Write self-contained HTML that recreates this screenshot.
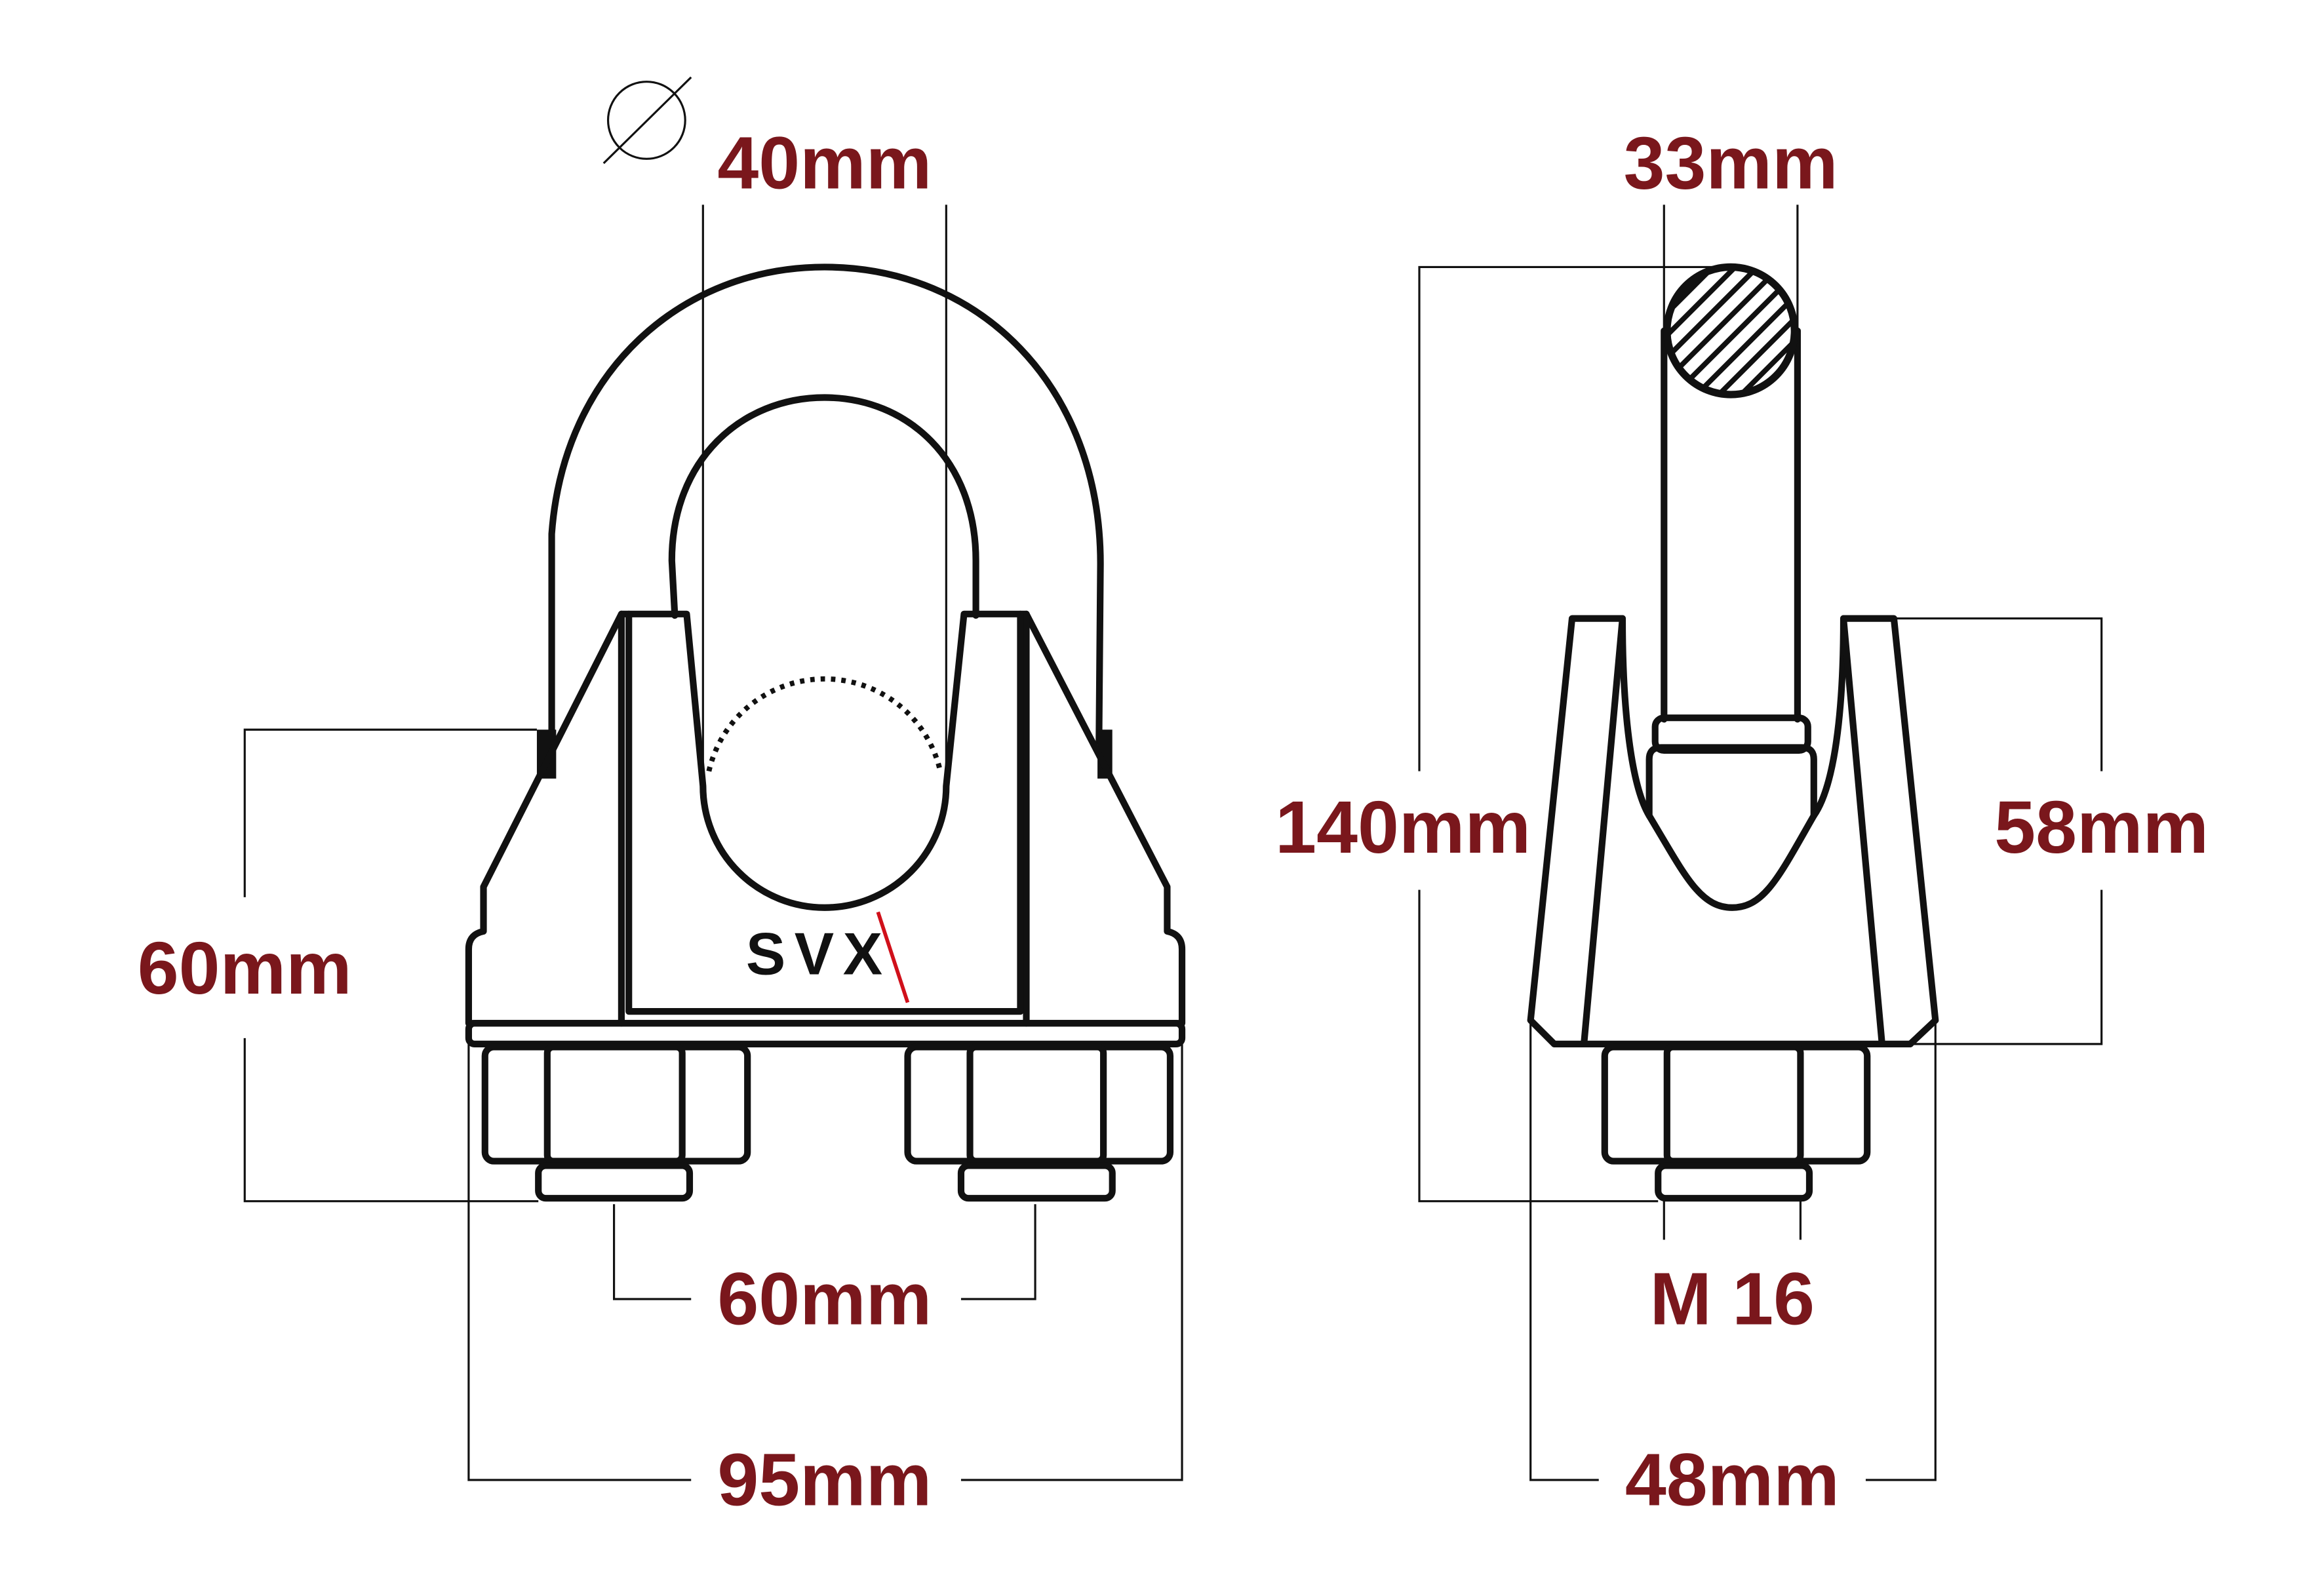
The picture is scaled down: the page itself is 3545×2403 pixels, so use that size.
<!DOCTYPE html>
<html><head><meta charset="utf-8"><style>
html,body{margin:0;padding:0;background:#fff;}
svg{display:block;}
.t{font-family:"Liberation Sans",sans-serif;font-weight:bold;fill:#7a171c;font-size:50px;text-anchor:middle;}
.k{fill:none;stroke:#111;stroke-width:4.5;stroke-linejoin:round;stroke-linecap:round;}
.d{fill:none;stroke:#111;stroke-width:1.4;}
</style></head><body>
<svg width="3545" height="2403" viewBox="0 0 1567 1062" xmlns="http://www.w3.org/2000/svg">
<rect width="1567" height="1062" fill="#fff"/>
<path class="k" d="M372,500 L372,360 C380,250 460,180 556,180 C660,180 742,260 742,380 L741,500"/>
<path class="k" d="M455,415 L453,378 C453,310 500,268 556,268 C612,268 658,310 658,378 L658,415"/>
<path d="M362,492 L375,492 L375,525 L362,525 Z" fill="#111"/>
<path d="M740,492 L750,492 L750,525 L740,525 Z" fill="#111"/>
<path class="k" d="M419,414 L463,414 L474,530 A82,82 0 0 0 638,530 L650,414 L692,414 L787,598 L787,628 Q797,630 797,640 L797,690 L316,690 L316,640 Q316,630 326,628 L326,598 Z"/>
<path class="k" d="M419,414 L419,690"/>
<path class="k" d="M692,414 L692,690"/>
<path class="k" d="M424,414 L424,682 L688,682 L688,414"/>
<rect class="k" x="316" y="690" width="481" height="14" rx="4"/>
<path d="M478,520 A80,80 0 0 1 634,520" fill="none" stroke="#111" stroke-width="3.5" stroke-dasharray="3,4"/>
<rect class="k" x="327" y="706" width="177" height="77" rx="6"/>
<rect class="k" x="369" y="706" width="91" height="77" rx="4"/>
<rect class="k" x="363" y="786" width="102" height="22" rx="5"/>
<rect class="k" x="612" y="706" width="177" height="77" rx="6"/>
<rect class="k" x="654" y="706" width="90" height="77" rx="4"/>
<rect class="k" x="648" y="786" width="102" height="22" rx="5"/>
<text x="552" y="657" font-family="Liberation Sans,sans-serif" font-size="40" font-weight="bold" letter-spacing="6" text-anchor="middle" fill="#111">SVX</text>
<line x1="592" y1="615" x2="612" y2="676" stroke="#d0101a" stroke-width="2.5"/>
<circle cx="436" cy="81" r="26" class="d" stroke-width="2"/>
<line x1="407" y1="110" x2="466" y2="52" class="d" stroke-width="2"/>
<text class="t" x="556" y="127">40mm</text>
<path class="d" d="M474,138 L474,530 M638,138 L638,530"/>
<path class="d" d="M362,492 L165,492 L165,605 M165,700 L165,810 L363,810"/>
<text class="t" x="165" y="670">60mm</text>
<path class="d" d="M414,812 L414,876 L466,876 M648,876 L698,876 L698,812"/>
<text class="t" x="556" y="893">60mm</text>
<path class="d" d="M316,704 L316,998 L466,998 M648,998 L797,998 L797,704"/>
<text class="t" x="556" y="1015">95mm</text>
<defs><clipPath id="c"><circle cx="1167" cy="223" r="43"/></clipPath></defs>
<path class="k" d="M1122,223 L1122,485 M1212,223 L1212,485"/>
<g clip-path="url(#c)" stroke="#111" stroke-width="3.5">
<line x1="1100" y1="220" x2="1170" y2="150"/><line x1="1100" y1="235" x2="1180" y2="155"/>
<line x1="1100" y1="250" x2="1195" y2="155"/><line x1="1105" y1="260" x2="1210" y2="155"/>
<line x1="1115" y1="265" x2="1220" y2="160"/><line x1="1125" y1="270" x2="1225" y2="170"/>
<line x1="1135" y1="275" x2="1230" y2="180"/><line x1="1150" y1="275" x2="1230" y2="195"/>
<line x1="1165" y1="275" x2="1230" y2="210"/><line x1="1090" y1="215" x2="1165" y2="140"/>
<line x1="1092" y1="202" x2="1155" y2="139"/>
</g>
<circle cx="1167" cy="223" r="43" fill="none" stroke="#111" stroke-width="5"/>
<rect class="k" x="1116" y="484" width="103" height="22" rx="6"/>
<path class="k" d="M1112,550 L1112,512 Q1112,504 1120,504 L1215,504 Q1223,504 1223,512 L1223,550 C1200,590 1190,612 1168,612 C1146,612 1136,590 1112,550"/>
<path class="k" d="M1094,417 C1094,480 1100,530 1112,550 M1243,417 C1243,480 1237,530 1223,550"/>
<path class="k" d="M1048,704 L1032,688 L1060,417 L1094,417 L1068,704 M1288,704 L1305,688 L1277,417 L1243,417 L1269,704"/>
<path class="k" d="M1048,704 L1288,704"/>
<rect class="k" x="1082" y="706" width="177" height="77" rx="6"/>
<rect class="k" x="1124" y="706" width="90" height="77" rx="4"/>
<rect class="k" x="1118" y="786" width="102" height="22" rx="5"/>
<path class="d" d="M1122,138 L1122,223 M1212,138 L1212,223"/>
<text class="t" x="1167" y="127">33mm</text>
<path class="d" d="M1167,180 L957,180 L957,520 M957,600 L957,810 L1118,810"/>
<text class="t" x="946" y="575">140mm</text>
<path class="d" d="M1277,417 L1417,417 L1417,520 M1417,600 L1417,704 L1288,704"/>
<text class="t" x="1417" y="575">58mm</text>
<path class="d" d="M1122,810 L1122,836 M1214,810 L1214,836"/>
<text class="t" x="1168" y="893">M 16</text>
<path class="d" d="M1032,688 L1032,998 L1078,998 M1258,998 L1305,998 L1305,688"/>
<text class="t" x="1168" y="1015">48mm</text>
</svg>
</body></html>
